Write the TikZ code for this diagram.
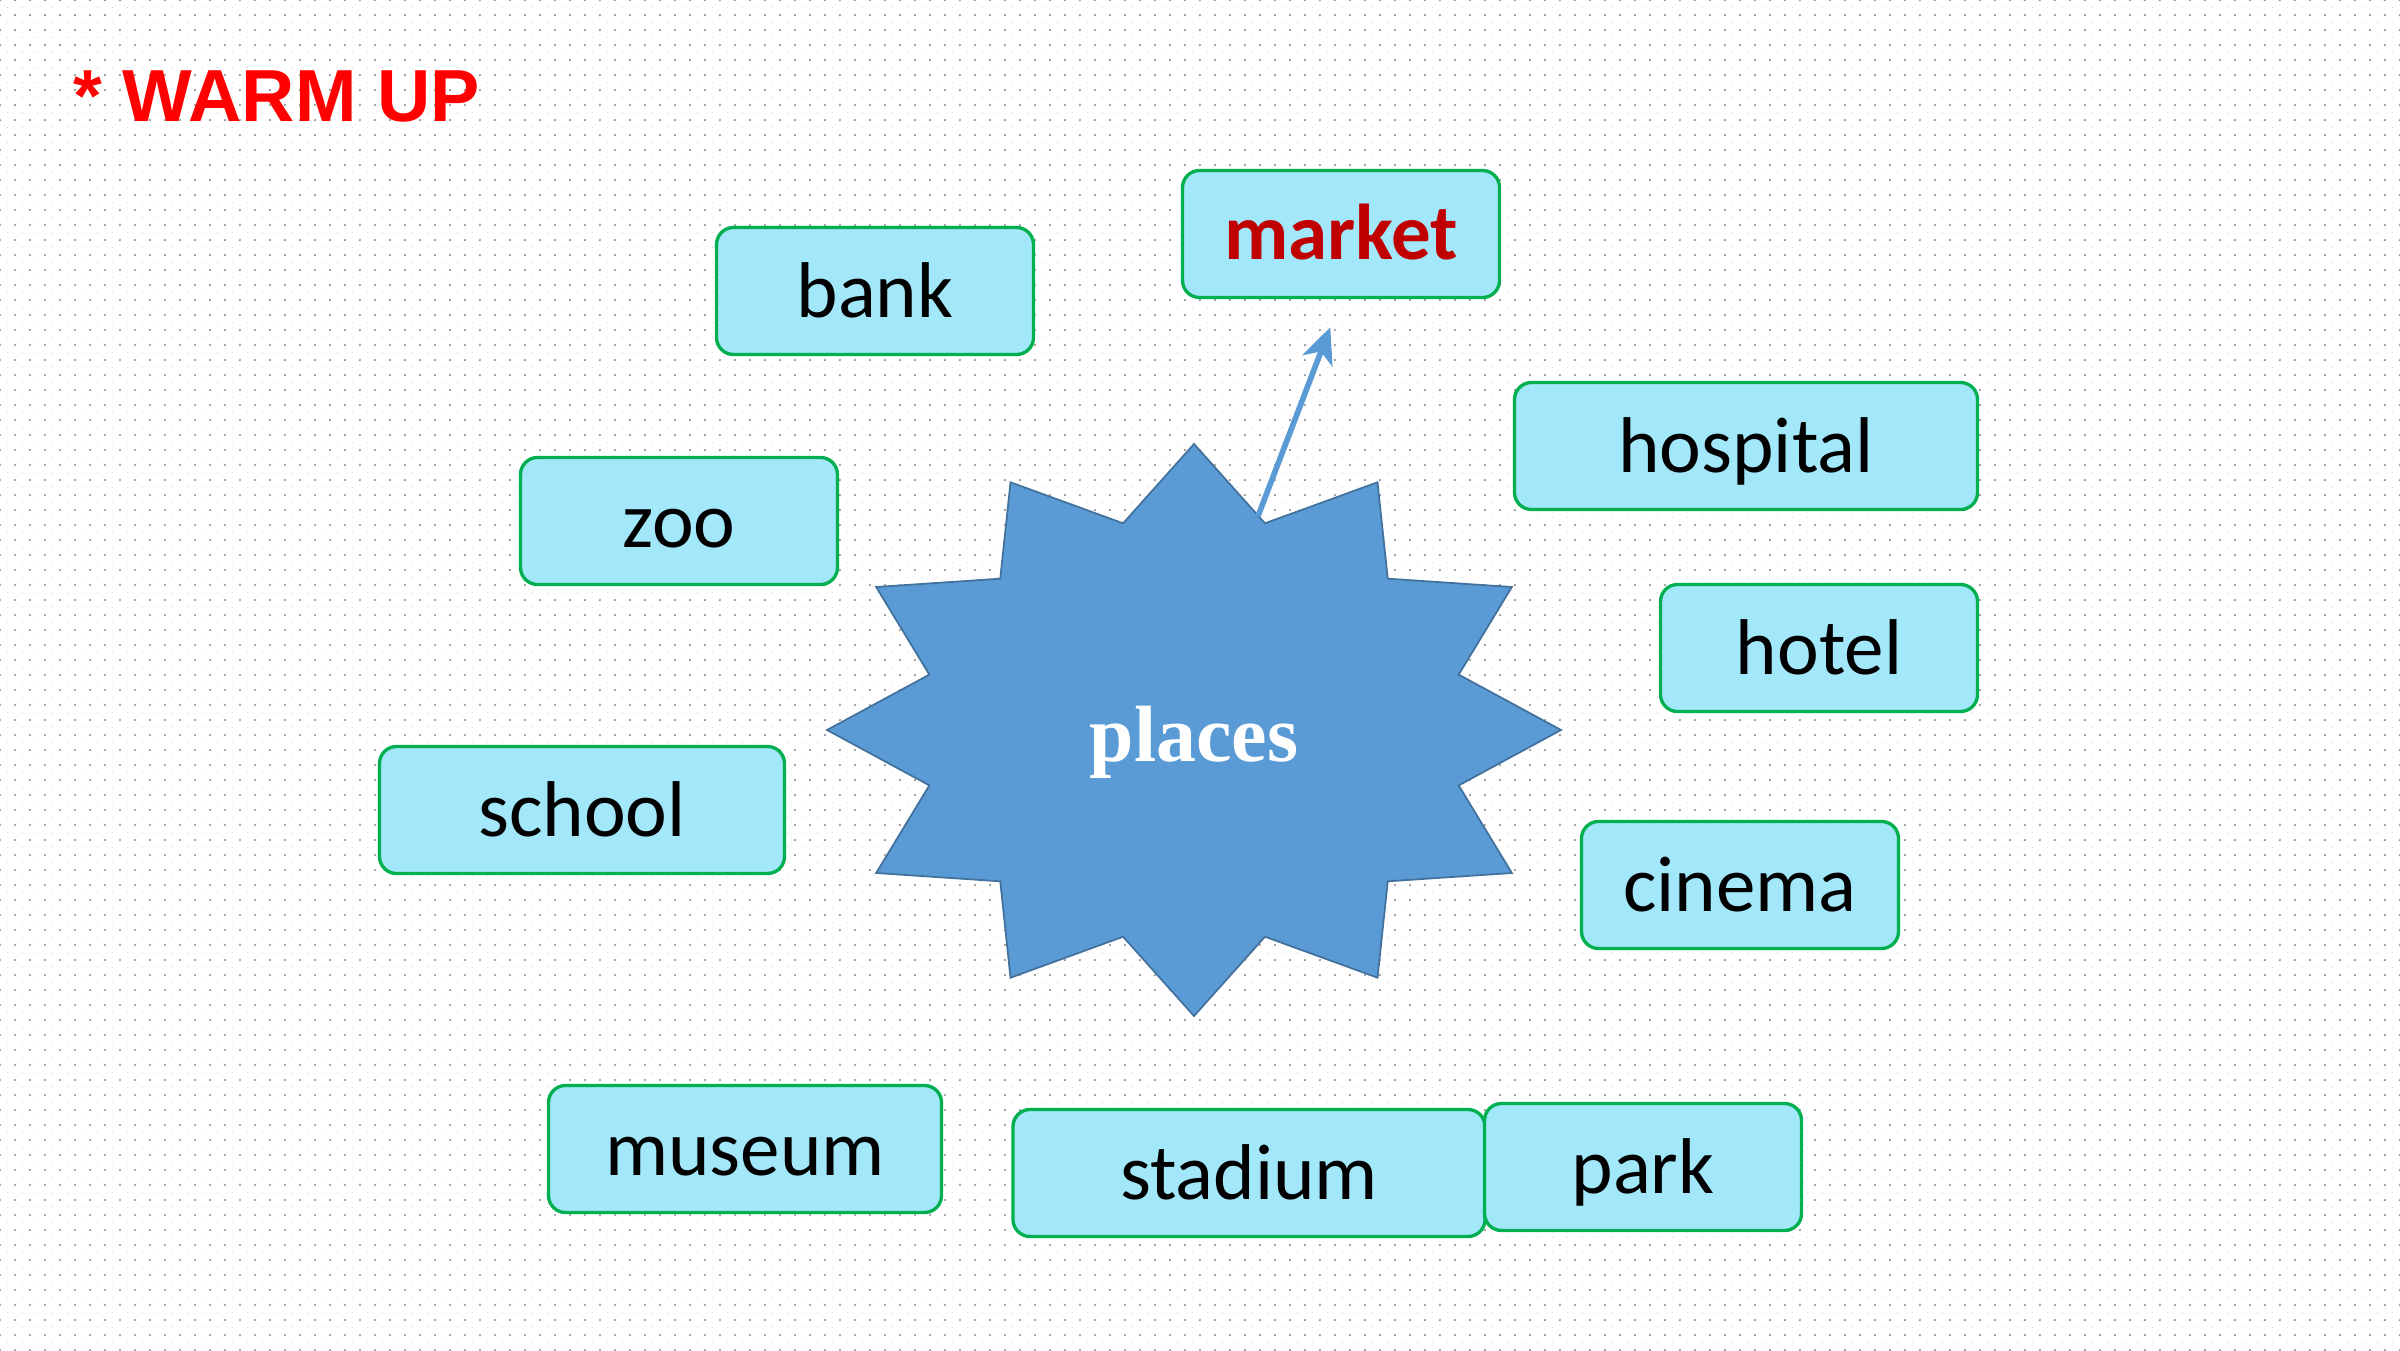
\documentclass[tikz,border=0pt]{standalone}
\usepackage{fontspec}
\setmainfont{Carlito}
\newfontfamily\titlefont{Liberation Sans}
\newfontfamily\starfont{Liberation Serif}
\usetikzlibrary{positioning, arrows.meta, patterns.meta}

\definecolor{boxfill}{HTML}{A3E7FB}
\definecolor{boxline}{HTML}{00B050}
\definecolor{starfill}{HTML}{5B9BD5}
\definecolor{starline}{HTML}{41719C}
\definecolor{marketred}{HTML}{C00000}

\begin{document}
\begin{tikzpicture}
    % Define styles
    \tikzset{
        place/.style={draw=boxline, line width=0.95pt, fill=boxfill, rounded corners=0.17cm,
            minimum width=3.17cm, minimum height=1.27cm, inner sep=0pt,
            text height=0.6cm, text depth=0.08cm,
            font=\fontsize{22.5}{27}\selectfont},
        placestar/.style={draw=starline, line width=0.5pt, fill=starfill},
        pointer/.style={-{Stealth[length=0.36cm, width=0.32cm, inset=0.1cm]}, draw=starfill, line width=1.6pt}
    }

    % Background
    \useasboundingbox (0,0) rectangle (24,13.5);
    \fill[white] (0,0) rectangle (24,13.5);
    \fill[pattern={Dots[distance=0.15cm, radius=0.007cm, xshift=0.075cm, yshift=0.075cm]}, pattern color=gray!30] (0,0) rectangle (24,13.5);
    \fill[pattern={Dots[distance=0.15cm, radius=0.012cm]}, pattern color=gray!90] (0,0) rectangle (24,13.5);

    % Title
    \node[anchor=base west, inner sep=0pt, text=red, font=\titlefont\bfseries\fontsize{21}{25}\selectfont] (Title) at (0.73, 12.28) {* WARM UP};

    % Star
    \coordinate (centre) at (11.94, 6.20);
    \draw[placestar, shift={(centre)}] (90:3.67 and 2.86)
        \foreach \a in {0,30,...,330} { -- (105+\a:2.74 and 2.14) -- (120+\a:3.67 and 2.86) } -- cycle;
    \coordinate (ptail) at ([shift={(-0.07,0.07)}]centre);
    \coordinate (ptip) at ([shift={(75:2.74 and 2.14)}]ptail);
    \node[text=white, text height=0.62cm, text depth=0cm, font=\starfont\bfseries\fontsize{22.7}{27}\selectfont] (Places) at (centre) {places};

    % Define nodes
    \node[place] (Bank) at (8.75, 10.59) {bank};
    \node[place, text=marketred, font=\bfseries\fontsize{22.5}{27}\selectfont] (Market) at (13.41, 11.16) {market};
    \node[place, minimum width=4.63cm] (Hospital) at (17.46, 9.04) {hospital};
    \node[place] (Zoo) at (6.79, 8.29) {zoo};
    \node[place] (Hotel) at (18.19, 7.02) {hotel};
    \node[place, minimum width=4.05cm] (School) at (5.82, 5.40) {school};
    \node[place] (Cinema) at (17.40, 4.65) {cinema};
    \node[place, minimum width=3.93cm] (Museum) at (7.45, 2.01) {museum};
    \node[place, minimum width=4.72cm] (Stadium) at (12.49, 1.77) {stadium};
    \node[place] (Park) at (16.43, 1.83) {park};

    % Arrow
    \draw[pointer, shorten >=0.3cm] (ptip) -- (Market.south);
\end{tikzpicture}
\end{document}
